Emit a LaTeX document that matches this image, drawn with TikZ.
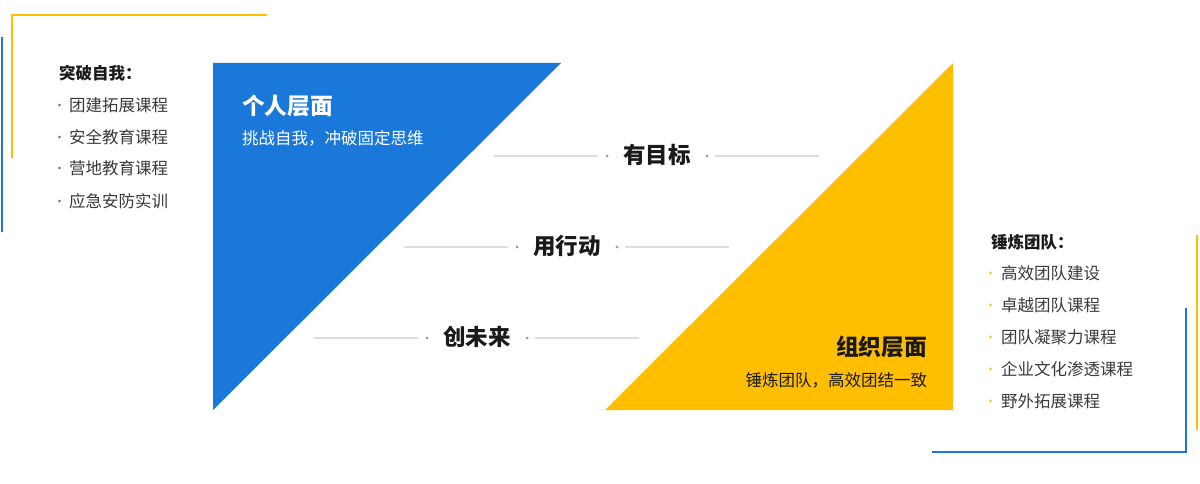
\documentclass[tikz,border=0pt]{standalone}
\usepackage{fontspec}
\setmainfont{Noto Sans CJK SC}
\definecolor{myblue}{HTML}{1A78DB}
\definecolor{myyellow}{HTML}{FFBF00}
\definecolor{txtdark}{HTML}{1A1A1A}
\definecolor{listgray}{HTML}{3A3A3A}
\definecolor{rulegray}{HTML}{DEDEDE}
\definecolor{dotgray}{HTML}{9A9A9A}
\tikzset{
  frameY/.style={draw=myyellow, line width=1.2pt},
  frameB/.style={draw=myblue, line width=1.2pt},
  plain/.style={inner sep=0pt, outer sep=0pt},
  listitem/.style={plain, anchor=west, text=listgray, font=\fontsize{16.5}{18}\selectfont},
  listhead/.style={plain, anchor=west, text=txtdark, font=\fontsize{16.5}{18}\selectfont\bfseries},
  midtext/.style={plain, text=txtdark, font=\fontsize{22.5}{24}\selectfont\bfseries},
  ruleline/.style={draw=rulegray, line width=1.5pt},
}
\begin{document}
\begin{tikzpicture}[x=1pt,y=-1pt]
\useasboundingbox (0,0) rectangle (1200,484);
\fill[white] (0,0) rectangle (1200,484);

% decorative frames
\draw[frameY] (267,15) -- (12,15) -- (12,158);
\draw[frameB] (2,37) -- (2,232);
\draw[frameB] (1186,308) -- (1186,452) -- (932,452);
\draw[frameY] (1197,235) -- (1197,430);

% triangles
\fill[myblue] (213,63) -- (561,63) -- (213,410) -- cycle;
\fill[myyellow] (953,63) -- (953,410) -- (605,410) -- cycle;

% triangle texts
\node[plain, anchor=west, text=white, font=\fontsize{22.75}{24}\selectfont\bfseries] (ph) at (242,106) {个人层面};
\node[plain, anchor=west, text=white, font=\fontsize{16.5}{18}\selectfont] (ps) at (242,138) {挑战自我，冲破固定思维};
\node[plain, anchor=east, text=txtdark, font=\fontsize{22.75}{24}\selectfont\bfseries] (oh) at (927,347) {组织层面};
\node[plain, anchor=east, text=txtdark, font=\fontsize{16.5}{18}\selectfont] (os) at (927,380) {锤炼团队，高效团结一致};

% middle rows
\foreach \cx/\cy/\name/\txt in {657/156/ma/有目标, 567/247/mb/用行动, 477/338/mc/创未来}{
  \node[midtext] (\name) at (\cx,\cy-1) {\txt};
  \coordinate (\name l1) at (\cx-163,\cy);
  \coordinate (\name l2) at (\cx-59,\cy);
  \coordinate (\name r1) at (\cx+58,\cy);
  \coordinate (\name r2) at (\cx+162,\cy);
  \draw[ruleline] (\name l1) -- (\name l2);
  \draw[ruleline] (\name r1) -- (\name r2);
  \fill[dotgray] (\cx-50,\cy) circle (1.5);
  \fill[dotgray] (\cx+50,\cy) circle (1.5);
}

% left list
\node[listhead] (lh) at (59,73) {突破自我：};
\foreach \y/\name/\txt in {105/l1/团建拓展课程, 137/l2/安全教育课程, 168/l3/营地教育课程, 201/l4/应急安防实训}{
  \fill[myblue] (59.5,\y) circle (1.4);
  \node[listitem] (\name) at (69,\y) {\txt};
}

% right list
\node[listhead] (rh) at (991,242) {锤炼团队：};
\foreach \y/\name/\txt in {273/r1/高效团队建设, 305/r2/卓越团队课程, 337/r3/团队凝聚力课程, 369/r4/企业文化渗透课程, 401/r5/野外拓展课程}{
  \fill[myyellow] (990.5,\y) circle (1.4);
  \node[listitem] (\name) at (1001,\y) {\txt};
}
\end{tikzpicture}
\end{document}
